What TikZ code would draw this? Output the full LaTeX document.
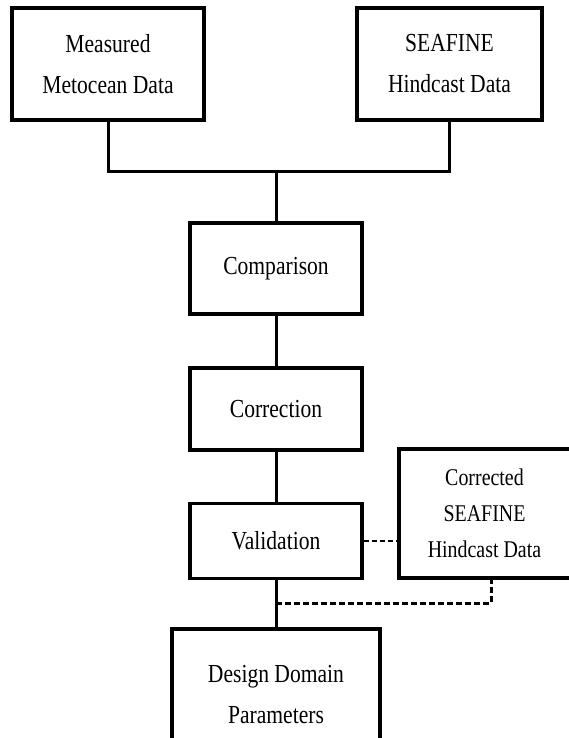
\documentclass[tikz,border=0pt]{standalone}
\usepackage{fontspec}
\setmainfont{Liberation Serif}[FakeStretch=0.83]
\usetikzlibrary{calc}
\begin{document}
\begin{tikzpicture}[x=1pt,y=-1pt,
  box/.style={draw=black, line width=3.5pt, fill=white, align=center, inner sep=0pt,
    font=\fontsize{26}{41}\selectfont},
  smallbox/.style={box, font=\fontsize{24}{36}\selectfont},
  link/.style={draw=black, line width=3pt},
  thindash/.style={draw=black, line width=1.5pt, dash pattern=on 5pt off 3pt},
  thickdash/.style={draw=black, line width=3pt, dash pattern=on 6pt off 3pt}]
\useasboundingbox (0,0) rectangle (568,738);
\fill[white] (0,0) rectangle (568,738);
\node[box, minimum width=192pt, minimum height=112pt] (m) at (108,64) {Measured\\Metocean Data};
\node[box, minimum width=185pt, minimum height=112pt] (s) at (449.5,64) {SEAFINE\\Hindcast Data};
\node[box, minimum width=172pt, minimum height=91pt] (comp) at (276,268.5) {Comparison};
\node[box, minimum width=172pt, minimum height=82pt] (corr) at (276,409) {Correction};
\node[box, minimum width=172pt, minimum height=75pt] (val) at (276,541) {Validation};
\node[smallbox, minimum width=181pt, minimum height=129pt] (cs) at (489.5,513.5) {\parbox{160pt}{\centering Corrected\\SEAFINE\\Hindcast Data}\hspace*{10pt}};
\node[box, minimum width=208pt, minimum height=131pt] (dd) at (276,694.5) {\raisebox{16pt}{\parbox{200pt}{\centering Design Domain\\Parameters}}};
\coordinate (j) at (276,172);
\coordinate (k) at (276,603);
\draw[link] (m.south) |- (j) -| (s.south);
\draw[link] (j) -- (comp.north);
\draw[link] (comp.south) -- (corr.north);
\draw[link] (corr.south) -- (val.north);
\draw[link] (val.south) -- (dd.north);
\draw[thindash] (val.east) -- (val.east -| cs.west);
\draw[thickdash] (k) -| ([xshift=1.5pt]cs.south);
\end{tikzpicture}
\end{document}
